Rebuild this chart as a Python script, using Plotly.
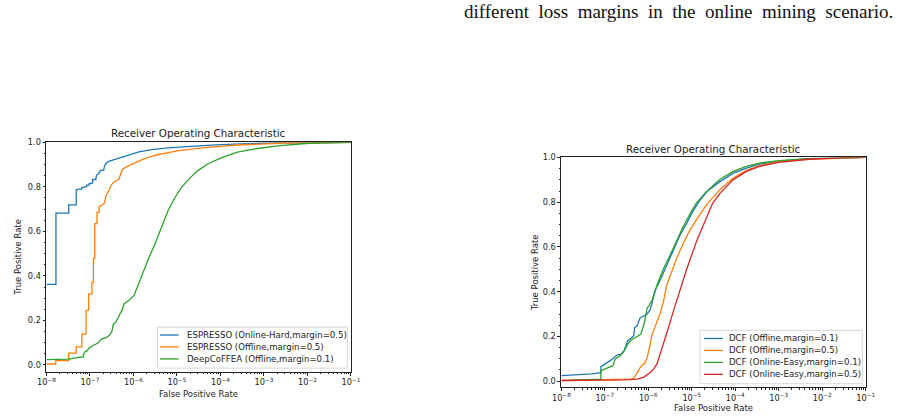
import plotly.graph_objects as go

# ---------------- data: left panel ----------------
left_names = ["ESPRESSO (Online-Hard,margin=0.5)",
              "ESPRESSO (Offline,margin=0.5)",
              "DeepCoFFEA (Offline,margin=0.1)"]

lb_fpr = [1e-8, 1.65e-8, 1.65e-8, 3.24e-8, 3.24e-8, 4.83e-8, 4.83e-8, 5.4e-8, 6.5e-8, 6.5e-8,
          7.7e-8, 8.4e-8, 8.4e-8, 9.6e-8, 9.6e-8, 1.15e-7, 1.15e-7, 1.36e-7, 1.41e-7, 1.62e-7,
          1.73e-7, 2.06e-7, 2.17e-7, 2.45e-7, 2.81e-7, 3.97e-7, 5.6e-7, 7.9e-7, 1.33e-6, 2.65e-6,
          6.3e-6, 2.1e-5, 1.0e-4, 1.4e-3, 1e-2, 1e-1]
lb_tpr = [0.362, 0.362, 0.682, 0.682, 0.719, 0.719, 0.786, 0.790, 0.790, 0.797,
          0.800, 0.800, 0.808, 0.808, 0.815, 0.818, 0.833, 0.833, 0.852, 0.862,
          0.874, 0.874, 0.895, 0.910, 0.916, 0.925, 0.934, 0.945, 0.957, 0.967,
          0.975, 0.982, 0.990, 0.997, 0.999, 1.0]

lo_fpr = [1e-8, 1.63e-8, 1.63e-8, 3.24e-8, 3.24e-8, 4.83e-8, 4.83e-8, 6.47e-8, 6.47e-8, 8.1e-8,
          8.1e-8, 9.3e-8, 9.3e-8, 1.11e-7, 1.11e-7, 1.2e-7, 1.2e-7, 1.29e-7, 1.29e-7, 1.45e-7,
          1.45e-7, 1.62e-7, 1.62e-7, 1.92e-7, 2.17e-7, 2.3e-7, 2.62e-7, 3.06e-7, 3.64e-7, 4.56e-7,
          5.14e-7, 5.61e-7, 7.26e-7, 1.03e-6, 1.58e-6, 3.15e-6, 1.1e-5, 4.4e-5, 2.5e-4, 3.2e-3, 1e-1]
lo_tpr = [0.004, 0.004, 0.019, 0.019, 0.053, 0.053, 0.081, 0.081, 0.138, 0.138,
          0.245, 0.245, 0.318, 0.318, 0.371, 0.371, 0.479, 0.479, 0.635, 0.635,
          0.685, 0.685, 0.711, 0.719, 0.729, 0.756, 0.778, 0.808, 0.823, 0.833,
          0.860, 0.879, 0.892, 0.907, 0.922, 0.942, 0.963, 0.976, 0.988, 0.997, 1.0]

lg_fpr = [1e-8, 3.24e-8, 4.99e-8, 7.07e-8, 7.07e-8, 7.69e-8, 8.4e-8, 9.64e-8, 1.19e-7, 1.53e-7,
          1.82e-7, 2.37e-7, 2.81e-7, 3.17e-7, 3.46e-7, 3.97e-7, 4.72e-7, 5.42e-7, 6.11e-7, 7.92e-7,
          1.03e-6, 1.22e-6, 1.58e-6, 2.23e-6, 3.15e-6, 4.46e-6, 6.3e-6, 8.9e-6, 1.26e-5, 2.11e-5,
          3.08e-5, 5.2e-5, 1.04e-4, 2.45e-4, 5.8e-4, 2.3e-3, 1.1e-2, 1e-1]
lg_tpr = [0.024, 0.026, 0.033, 0.036, 0.045, 0.060, 0.062, 0.077, 0.087, 0.098,
          0.116, 0.122, 0.134, 0.149, 0.183, 0.193, 0.223, 0.245, 0.275, 0.290,
          0.312, 0.349, 0.408, 0.478, 0.545, 0.625, 0.695, 0.750, 0.797, 0.845,
          0.874, 0.904, 0.930, 0.956, 0.970, 0.985, 0.996, 1.0]

# ---------------- data: right panel ----------------
right_names = ["DCF (Offline,margin=0.1)",
               "DCF (Offline,margin=0.5)",
               "DCF (Online-Easy,margin=0.1)",
               "DCF (Online-Easy,margin=0.5)"]

rb_fpr = [1e-8, 3.53e-8, 4.99e-8, 7.69e-8, 8.11e-8, 8.11e-8, 9.98e-8, 1.19e-7, 1.41e-7, 1.62e-7,
          1.92e-7, 2.37e-7, 2.81e-7, 3.34e-7, 3.97e-7, 4.56e-7, 4.89e-7, 5.61e-7, 6.44e-7, 7.66e-7,
          9.1e-7, 1.08e-6, 1.22e-6, 1.38e-6, 1.88e-6, 2.65e-6, 3.75e-6, 5.3e-6, 7.48e-6, 1.06e-5,
          1.49e-5, 2.26e-5, 4.52e-5, 9.0e-5, 1.8e-4, 3.59e-4, 1.01e-3, 4.8e-3, 2.7e-2, 1e-1]
rb_tpr = [0.025, 0.030, 0.033, 0.037, 0.037, 0.065, 0.077, 0.084, 0.095, 0.106,
          0.117, 0.121, 0.139, 0.180, 0.192, 0.202, 0.239, 0.250, 0.283, 0.290,
          0.298, 0.315, 0.349, 0.400, 0.452, 0.518, 0.585, 0.651, 0.703, 0.760,
          0.805, 0.849, 0.893, 0.930, 0.952, 0.970, 0.983, 0.995, 0.999, 1.0]

ro_fpr = [1e-8, 2.81e-7, 3.97e-7, 4.72e-7, 5.61e-7, 6.67e-7, 8.2e-7, 9.42e-7, 1.08e-6, 1.22e-6,
          1.45e-6, 1.88e-6, 2.23e-6, 2.65e-6, 3.44e-6, 4.46e-6, 6.3e-6, 8.9e-6, 1.26e-5, 2.2e-5,
          3.54e-5, 4.52e-5, 9.0e-5, 1.8e-4, 3.59e-4, 1.01e-3, 4.8e-3, 2.7e-2, 1e-1]
ro_tpr = [0.003, 0.006, 0.009, 0.015, 0.040, 0.065, 0.080, 0.106, 0.158, 0.209,
          0.246, 0.305, 0.356, 0.430, 0.489, 0.548, 0.614, 0.673, 0.720, 0.790,
          0.835, 0.858, 0.908, 0.942, 0.963, 0.981, 0.992, 0.998, 1.0]

rg_fpr = [1.49e-8, 7.69e-8, 8.11e-8, 8.11e-8, 9.98e-8, 1.29e-7, 1.53e-7, 1.73e-7, 1.99e-7, 2.37e-7,
          2.81e-7, 3.34e-7, 3.97e-7, 5.14e-7, 6.67e-7, 7.92e-7, 9.42e-7, 1.08e-6, 1.29e-6, 1.58e-6,
          2.23e-6, 3.15e-6, 4.46e-6, 6.3e-6, 8.9e-6, 1.26e-5, 2.11e-5, 4.52e-5, 9.0e-5, 1.8e-4,
          3.59e-4, 1.01e-3, 4.8e-3, 2.7e-2, 1e-1]
rg_tpr = [0.003, 0.009, 0.009, 0.047, 0.055, 0.062, 0.069, 0.099, 0.109, 0.118,
          0.136, 0.165, 0.183, 0.195, 0.209, 0.253, 0.327, 0.342, 0.371, 0.430,
          0.503, 0.563, 0.629, 0.690, 0.745, 0.795, 0.845, 0.904, 0.938, 0.960,
          0.975, 0.986, 0.995, 0.999, 1.0]

rr_fpr = [1e-8, 1.99e-7, 2.81e-7, 5.61e-7, 7.92e-7, 1.12e-6, 1.33e-6, 1.58e-6, 1.88e-6, 2.23e-6,
          2.9e-6, 3.75e-6, 5.3e-6, 7.48e-6, 1.06e-5, 1.3e-5, 2.11e-5, 3.0e-5, 4.52e-5, 9.0e-5,
          1.8e-4, 3.59e-4, 1.01e-3, 4.8e-3, 2.7e-2, 1e-1]
rr_tpr = [0.003, 0.003, 0.006, 0.009, 0.018, 0.040, 0.055, 0.077, 0.121, 0.172,
          0.239, 0.312, 0.408, 0.496, 0.580, 0.628, 0.725, 0.795, 0.842, 0.901,
          0.938, 0.960, 0.978, 0.992, 0.998, 1.0]

colors = ["#1f77b4", "#ff7f0e", "#2ca02c", "#d62728"]

x_tick_vals = [1e-8, 1e-7, 1e-6, 1e-5, 1e-4, 1e-3, 1e-2, 1e-1]
x_tick_text = ["10<sup>\u22128</sup>", "10<sup>\u22127</sup>", "10<sup>\u22126</sup>",
               "10<sup>\u22125</sup>", "10<sup>\u22124</sup>", "10<sup>\u22123</sup>",
               "10<sup>\u22122</sup>", "10<sup>\u22121</sup>"]
y_tick_vals = [0.0, 0.2, 0.4, 0.6, 0.8, 1.0]
y_tick_text = ["0.0", "0.2", "0.4", "0.6", "0.8", "1.0"]
title_text = "Receiver Operating Characteristic"
x_label = "False Positive Rate"
y_label = "True Positive Rate"
caption_words = ["different", "loss", "margins", "in", "the", "online", "mining", "scenario."]

# ---------------- figure ----------------
W, H = 898, 419
fig = go.Figure()

left_series = [(lb_fpr, lb_tpr), (lo_fpr, lo_tpr), (lg_fpr, lg_tpr)]
right_series = [(rb_fpr, rb_tpr), (ro_fpr, ro_tpr), (rg_fpr, rg_tpr), (rr_fpr, rr_tpr)]

for i, (fx, ty) in enumerate(left_series):
    fig.add_trace(go.Scatter(x=fx, y=ty, mode="lines", name=left_names[i],
                             line=dict(color=colors[i], width=1.3),
                             xaxis="x", yaxis="y", showlegend=False))
for i, (fx, ty) in enumerate(right_series):
    fig.add_trace(go.Scatter(x=fx, y=ty, mode="lines", name=right_names[i],
                             line=dict(color=colors[i], width=1.3),
                             xaxis="x2", yaxis="y2", showlegend=False))

x_minor = [k * 10.0 ** e for e in range(-8, -1) for k in range(2, 10)]
y_minor = [round(0.05 * k, 2) for k in range(0, 21) if k % 4 != 0]

font_tick = dict(family="DejaVu Sans", size=8.2, color="#222222")

def xaxis_cfg(domain, anchor):
    return dict(type="log", domain=domain, anchor=anchor, range=[-8, -1],
                tickmode="array", tickvals=x_tick_vals, ticktext=x_tick_text,
                ticks="outside", ticklen=3, tickwidth=0.8, tickcolor="#222222",
                minor=dict(tickmode="array", tickvals=x_minor, ticks="outside",
                           ticklen=1.8, tickwidth=0.6, tickcolor="#222222"),
                showline=True, linecolor="#222222", linewidth=0.9, mirror=True,
                showgrid=False, zeroline=False, tickfont=font_tick)

def yaxis_cfg(domain, anchor, ymin):
    return dict(domain=domain, anchor=anchor, range=[ymin, 1.0],
                tickmode="array", tickvals=y_tick_vals, ticktext=y_tick_text,
                ticks="outside", ticklen=3, tickwidth=0.8, tickcolor="#222222",
                minor=dict(tickmode="array", tickvals=y_minor, ticks="outside",
                           ticklen=1.8, tickwidth=0.6, tickcolor="#222222"),
                showline=True, linecolor="#222222", linewidth=0.9, mirror=True,
                showgrid=False, zeroline=False, tickfont=font_tick)

lx0, lx1, ly_top, ly_bot = 38.3, 349.3, 139.0, 371.0
rx0, rx1, ry_top, ry_bot = 564.3, 875.3, 154.3, 386.7

fig.update_layout(
    width=W, height=H, margin=dict(l=0, r=0, t=0, b=0),
    paper_bgcolor="white", plot_bgcolor="white",
    xaxis=xaxis_cfg([lx0 / W, lx1 / W], "y"),
    yaxis=yaxis_cfg([1 - ly_bot / H, 1 - ly_top / H], "x", -0.03),
    xaxis2=xaxis_cfg([rx0 / W, rx1 / W], "y2"),
    yaxis2=yaxis_cfg([1 - ry_bot / H, 1 - ry_top / H], "x2", -0.0265),
)

ann = []
shapes = []

def px(x):
    return x / W

def py(y):
    return 1 - y / H

lab_font = dict(family="DejaVu Sans", size=8.5, color="#222222")
leg_font = dict(family="DejaVu Sans", size=8.6, color="#222222")
ttl_font = dict(family="DejaVu Sans", size=10.3, color="#222222")

# titles and axis labels
for (cx, ty, xl_y, yl_x, cy) in [((lx0 + lx1) / 2, 129.3, 393.3, 9.0, (ly_top + ly_bot) / 2),
                                 ((rx0 + rx1) / 2, 145.3, 408.3, 537.3, (ry_top + ry_bot) / 2)]:
    ann.append(dict(x=px(cx), y=py(ty), xref="paper", yref="paper", text=title_text,
                    showarrow=False, xanchor="center", yanchor="middle", font=ttl_font))
    ann.append(dict(x=px(cx), y=py(xl_y), xref="paper", yref="paper", text=x_label,
                    showarrow=False, xanchor="center", yanchor="middle", font=lab_font))
    ann.append(dict(x=px(yl_x), y=py(cy), xref="paper", yref="paper", text=y_label,
                    showarrow=False, xanchor="center", yanchor="middle", textangle=-90,
                    font=lab_font))

# legends (matplotlib-style compact boxes)
def legend_box(x0, x1, y0, y1, line_x0, line_x1, text_x, rows, names):
    shapes.append(dict(type="rect", xref="paper", yref="paper",
                       x0=px(x0), x1=px(x1), y0=py(y1), y1=py(y0),
                       line=dict(color="#cccccc", width=0.8),
                       fillcolor="rgba(255,255,255,0.8)", layer="above"))
    for i, (ry, nm) in enumerate(zip(rows, names)):
        shapes.append(dict(type="line", xref="paper", yref="paper",
                           x0=px(line_x0), x1=px(line_x1), y0=py(ry), y1=py(ry),
                           line=dict(color=colors[i], width=1.3), layer="above"))
        ann.append(dict(x=px(text_x), y=py(ry), xref="paper", yref="paper", text=nm,
                        showarrow=False, xanchor="left", yanchor="middle", font=leg_font))

legend_box(151.7, 345.7, 326.0, 367.5, 154.3, 173.3, 179.5, [334.0, 346.0, 358.2], left_names)
legend_box(706.0, 871.7, 329.3, 383.3, 710.0, 729.3, 734.0, [337.5, 349.6, 361.7, 373.8], right_names)

# caption text at the top of the page (justified line, so wider word gaps)
caption = "\u00a0 ".join(caption_words)
ann.append(dict(x=px(463), y=py(7.0), xref="paper", yref="paper", text=caption,
                showarrow=False, xanchor="left", yanchor="middle",
                font=dict(family="Liberation Serif", size=19, color="#111111")))

fig.update_layout(annotations=ann, shapes=shapes)
fig.write_html("out.html")
